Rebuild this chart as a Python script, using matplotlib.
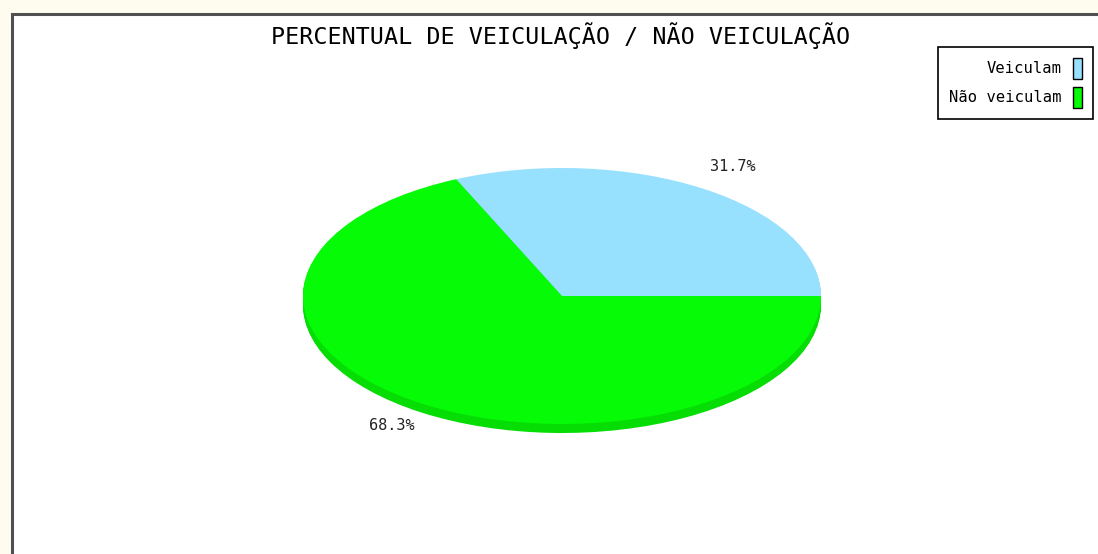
import matplotlib
matplotlib.use("Agg")
import matplotlib.pyplot as plt
from matplotlib.patches import Rectangle, Patch
import matplotlib.colors as mcolors

# ---- data ----
title = "PERCENTUAL DE VEICULAÇÃO / NÃO VEICULAÇÃO"
categories = ["Veiculam", "Não veiculam"]
values = [31.7, 68.3]
colors = ["#98E1FE", "#06FB06"]

W, H = 1098, 554
fig = plt.figure(figsize=(W / 100, H / 100), dpi=100)
fig.patch.set_facecolor("#FEFCEF")

# white panel with dark border (top/left visible)
panel = Rectangle((12 / W, -0.1), 1.2, (H - 14) / H + 0.1,
                  transform=fig.transFigure, facecolor="white",
                  edgecolor="#505050", linewidth=2.2, zorder=-5)
fig.patches.append(panel)

mono = "DejaVu Sans Mono"
fig.text(561 / W, 1 - 36 / H, title, ha="center", va="center",
         fontsize=16.8, family=mono, color="black")

# pie axes: bounding box of the top ellipse
ax = fig.add_axes([303 / W, (H - 424) / H, 518 / W, 256 / H])
ax.set_facecolor("none")
ax.set_zorder(2)

depth_px = 9
ry_px = 128.0
dark = [tuple(c * 0.88 for c in mcolors.to_rgb(col)) for col in colors]
for k in range(depth_px, 0, -1):
    ax.pie(values, colors=dark, startangle=0, counterclock=True,
           center=(0, -k / ry_px), radius=1.0,
           wedgeprops=dict(linewidth=0))

wedges, texts, autotexts = ax.pie(
    values, colors=colors, startangle=0, counterclock=True,
    autopct="%.1f%%", pctdistance=1.21, radius=1.0,
    wedgeprops=dict(linewidth=0),
    textprops=dict(family=mono, fontsize=11, color="#222222"))

ax.set_aspect("auto")
ax.set_xlim(-1, 1)
ax.set_ylim(-1, 1)
ax.axis("off")

# legend with swatches on the right
handles = [Patch(facecolor=c, edgecolor="black", linewidth=1) for c in colors]
leg = fig.legend(handles, categories, loc="upper right",
                 bbox_to_anchor=(1093 / W, 1 - 47 / H),
                 markerfirst=False, frameon=True, fancybox=False,
                 edgecolor="black", framealpha=1,
                 prop=dict(family=mono, size=11.2),
                 handlelength=0.6, handleheight=1.7, handletextpad=0.75,
                 labelspacing=0.5, borderpad=0.7, borderaxespad=0)
leg.set_zorder(3)
leg.get_frame().set_linewidth(1.2)
for t in leg.get_texts():
    t.set_ha("right")
leg._legend_box.align = "right"

fig.savefig("out.png", dpi=100, facecolor=fig.get_facecolor())
